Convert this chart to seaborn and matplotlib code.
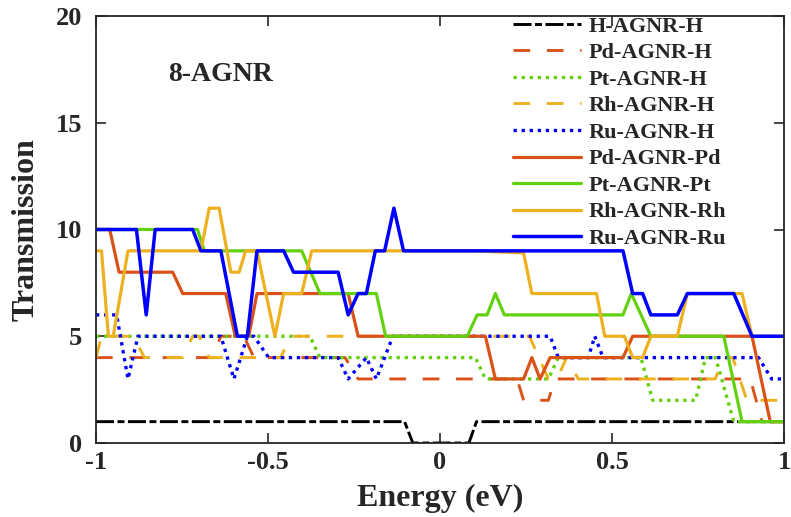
import matplotlib
matplotlib.use("Agg")
import matplotlib.pyplot as plt
import seaborn as sns

# ---------------- data ----------------
series_names = ["H-AGNR-H", "Pd-AGNR-H", "Pt-AGNR-H", "Rh-AGNR-H", "Ru-AGNR-H",
                "Pd-AGNR-Pd", "Pt-AGNR-Pt", "Rh-AGNR-Rh", "Ru-AGNR-Ru"]

H_H_E = [-1, -0.103, -0.079, 0.084, 0.106, 1]
H_H_T = [1, 1, 0, 0, 1, 1]

Pd_H_E = [-1, -0.662, -0.637, -0.570, -0.541, -0.276, -0.238, 0.224, 0.243, 0.315, 0.334, 0.902, 0.936, 1]
Pd_H_T = [4, 4, 5, 5, 4, 4, 3, 3, 2, 2, 3, 3, 1, 1]

Pt_H_E = [-1, -0.378, -0.349, 0.103, 0.132, 0.315, 0.344, 0.584, 0.618, 0.743, 0.772, 0.801, 0.854, 1]
Pt_H_T = [5, 5, 4, 4, 3, 3, 4, 4, 2, 2, 4, 4, 1, 1]

Rh_H_E = [-1, -0.984, -0.892, -0.859, -0.748, -0.719, -0.700, -0.671, -0.464, -0.431,
          0.260, 0.315, 0.340, 0.368, 0.402, 0.800, 0.825, 0.851, 0.892, 1]
Rh_H_T = [4, 5, 5, 4, 4, 5, 5, 4, 4, 5, 5, 3, 3, 4, 3, 3, 4, 4, 2, 2]

Ru_H_E = [-1, -0.940, -0.907, -0.878, -0.637, -0.599, -0.560, -0.541, -0.498, -0.296,
          -0.267, -0.214, -0.185, -0.137, 0.320, 0.344, 0.431, 0.450, 0.474, 0.926, 0.964, 1]
Ru_H_T = [6, 6, 3, 5, 5, 3, 5, 5, 4, 4, 3, 4, 3, 5, 5, 4, 4, 5, 4, 4, 3, 3]

Pd_Pd_E = [-1, -0.960, -0.933, -0.777, -0.748, -0.623, -0.595, -0.556, -0.532, -0.267,
           -0.238, 0.132, 0.161, 0.243, 0.267, 0.291, 0.320, 0.532, 0.560, 0.907, 0.960, 1]
Pd_Pd_T = [10, 10, 8, 8, 7, 7, 5, 5, 7, 7, 5, 5, 3, 3, 4, 3, 4, 4, 5, 5, 1, 1]

Pt_Pt_E = [-1, -0.705, -0.685, -0.402, -0.349, -0.185, -0.158, 0.079, 0.108, 0.137,
           0.161, 0.187, 0.532, 0.556, 0.613, 0.825, 0.878, 1]
Pt_Pt_T = [10, 10, 9, 9, 7, 7, 5, 5, 6, 6, 7, 6, 6, 7, 5, 5, 1, 1]

Rh_Rh_E = [-1, -0.984, -0.964, -0.950, -0.907, -0.695, -0.671, -0.642, -0.608, -0.584,
           -0.565, -0.532, -0.480, -0.4545, -0.402, -0.373, 0.100, 0.243, 0.267, 0.455,
           0.479, 0.536, 0.560, 0.589, 0.613, 0.690, 0.719, 0.878, 0.907, 1]
Rh_Rh_T = [9, 9, 5, 5, 9, 9, 11, 11, 8, 8, 9, 9, 5, 7, 7, 9, 9, 8.9, 7, 7,
           5, 5, 4, 4, 5, 5, 7, 7, 5, 5]

Ru_Ru_E = [-1, -0.8825, -0.854, -0.828, -0.719, -0.695, -0.637, -0.589, -0.560, -0.532,
           -0.4545, -0.4257, -0.296, -0.267, -0.238, -0.214, -0.188, -0.161, -0.134, -0.106,
           0.532, 0.560, 0.589, 0.613, 0.690, 0.719, 0.854, 0.907, 1]
Ru_Ru_T = [10, 10, 6, 10, 10, 9, 9, 5, 5, 9, 9, 8, 8, 6, 7, 7, 9, 9, 11, 9,
           9, 7, 7, 6, 6, 7, 7, 5, 5]

x_ticks = [-1, -0.5, 0, 0.5, 1]
x_tick_labels = ["-1", "-0.5", "0", "0.5", "1"]
y_ticks = [0, 5, 10, 15, 20]
y_tick_labels = ["0", "5", "10", "15", "20"]

# ---------------- style ----------------
sns.set_theme(style="ticks")
plt.rcParams["font.family"] = ["Liberation Serif", "DejaVu Serif"]
plt.rcParams["font.weight"] = "bold"
plt.rcParams["axes.unicode_minus"] = False
plt.rcParams["lines.scale_dashes"] = False

C_PD = "#D95319"
C_PT = "#63D10F"
C_RH = "#EDB120"
C_RU = "#0000FF"
C_H = "#000000"

DASH = (0, (12, 12))
DOT = (0, (2.4, 3.4))
DASHDOT = (0, (13, 2.5, 5, 2.5))

specs = [
    (H_H_E, H_H_T, C_H, DASHDOT, 2.1),
    (Pd_H_E, Pd_H_T, C_PD, DASH, 2.1),
    (Pt_H_E, Pt_H_T, C_PT, DOT, 2.4),
    (Rh_H_E, Rh_H_T, C_RH, DASH, 2.1),
    (Ru_H_E, Ru_H_T, C_RU, DOT, 2.4),
    (Pd_Pd_E, Pd_Pd_T, C_PD, "-", 2.3),
    (Pt_Pt_E, Pt_Pt_T, C_PT, "-", 2.3),
    (Rh_Rh_E, Rh_Rh_T, C_RH, "-", 2.3),
    (Ru_Ru_E, Ru_Ru_T, C_RU, "-", 2.5),
]

fig = plt.figure(figsize=(7.91, 5.17), dpi=100)
ax = fig.add_axes([96 / 791, 1 - 443 / 517, (784 - 96) / 791, (443 - 16) / 517])

for name, (E, T, c, ls, lw) in zip(series_names, specs):
    sns.lineplot(x=E, y=T, ax=ax, color=c, linestyle=ls, linewidth=lw,
                 label=name, sort=False, estimator=None)

ax.set_xlim(-1, 1)
ax.set_ylim(0, 20)
ax.set_xticks(x_ticks)
ax.set_xticklabels(x_tick_labels)
ax.set_yticks(y_ticks)
ax.set_yticklabels(y_tick_labels)
ax.tick_params(direction="in", length=7, width=1.2, top=True, right=True,
               labelsize=19, colors="#262626")
ax.tick_params(axis="y", pad=10)
ax.tick_params(axis="x", pad=6)
for lab in ax.get_xticklabels() + ax.get_yticklabels():
    lab.set_fontweight("bold")
for s in ax.spines.values():
    s.set_visible(True)
    s.set_linewidth(1.3)
    s.set_color("#262626")

ax.set_xlabel("Energy (eV)", fontsize=23, fontweight="bold", labelpad=7)
ax.set_ylabel("Transmission", fontsize=23, fontweight="bold", labelpad=11)

ax.text(-0.791, 17.24, "8-AGNR", fontsize=20, fontweight="bold", ha="left", va="center")

leg = ax.legend(loc="upper left", bbox_to_anchor=(513 / 791, 1 - 16 / 517),
                bbox_transform=fig.transFigure, frameon=False, fontsize=16,
                handlelength=3.06, handletextpad=0.32, labelspacing=0.27,
                borderpad=0, borderaxespad=0)
for t in leg.get_texts():
    t.set_fontweight("bold")

fig.savefig("out.png", dpi=100)
